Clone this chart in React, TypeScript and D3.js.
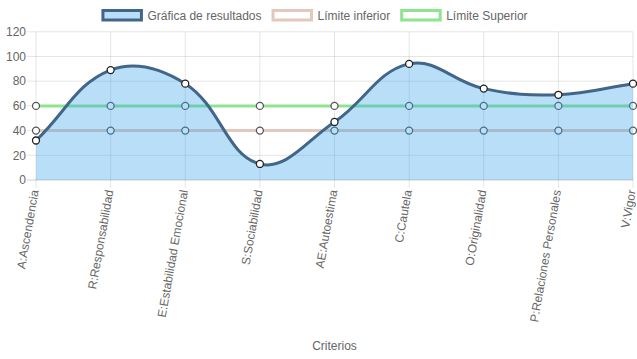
import React from 'react';
import * as d3 from 'd3';

// Data
const categories = [
  'A:Ascendencia',
  'R:Responsabilidad',
  'E:Estabilidad Emocional',
  'S:Sociabilidad',
  'AE:Autoestima',
  'C:Cautela',
  'O:Originalidad',
  'P:Relaciones Personales',
  'V:Vigor',
];
const resultados = [32, 89, 78, 13, 47, 94, 74, 69, 78];
const limiteInferior = [40, 40, 40, 40, 40, 40, 40, 40, 40];
const limiteSuperior = [60, 60, 60, 60, 60, 60, 60, 60, 60];
const yTicks = [0, 20, 40, 60, 80, 100, 120];
const legendLabels = ['Gráfica de resultados', 'Límite inferior', 'Límite Superior'];
const xTitle = 'Criterios';

const W = 637;
const H = 359;
const FONT = "'Liberation Sans', Arial, Helvetica, sans-serif";
const TEXT = '#666';

// plot area
const area = { left: 36, right: 633, top: 31.8, bottom: 180 };

// colours
const fillColor = 'rgba(54,162,235,0.35)';
const lineColor = '#42668a';
const lowColor = '#e3c8bc';
const highColor = '#8fe58f';

// Chart.js style spline (tension 0.4) as a d3 curve, control points capped to the chart area
const splineCurve = (context: any) => {
  const t = 0.4;
  let pts: number[][] = [];
  let line: number = NaN;
  const cap = (v: number, lo: number, hi: number) => Math.max(lo, Math.min(hi, v));
  return {
    areaStart() { line = 0; },
    areaEnd() { line = NaN; },
    lineStart() { pts = []; },
    point(x: number, y: number) { pts.push([+x, +y]); },
    lineEnd() {
      const n = pts.length;
      if (n) {
        if (line) context.lineTo(pts[0][0], pts[0][1]);
        else context.moveTo(pts[0][0], pts[0][1]);
        const ctrl = pts.map((cur, i) => {
          const prev = pts[i - 1] || cur;
          const next = pts[i + 1] || cur;
          const d01 = Math.hypot(cur[0] - prev[0], cur[1] - prev[1]);
          const d12 = Math.hypot(next[0] - cur[0], next[1] - cur[1]);
          let s01 = d01 / (d01 + d12);
          let s12 = d12 / (d01 + d12);
          if (isNaN(s01)) s01 = 0;
          if (isNaN(s12)) s12 = 0;
          const fa = t * s01;
          const fb = t * s12;
          const px = cur[0] - fa * (next[0] - prev[0]);
          const py = cur[1] - fa * (next[1] - prev[1]);
          const nx = cur[0] + fb * (next[0] - prev[0]);
          const ny = cur[1] + fb * (next[1] - prev[1]);
          return {
            prev: [cap(px, area.left, area.right), cap(py, area.top, area.bottom)],
            next: [cap(nx, area.left, area.right), cap(ny, area.top, area.bottom)],
          };
        });
        for (let i = 1; i < n; i++) {
          const a = ctrl[i - 1].next;
          const b = ctrl[i].prev;
          context.bezierCurveTo(a[0], a[1], b[0], b[1], pts[i][0], pts[i][1]);
        }
      }
      if (line || (line !== 0 && n === 1)) context.closePath();
      line = 1 - line;
    },
  };
};

const measure = (txt: string) => {
  const c = document.createElement('canvas').getContext('2d');
  if (!c) return txt.length * 6;
  c.font = `12px ${FONT}`;
  return c.measureText(txt).width;
};

const App = () => {
  const x = d3.scalePoint<string>().domain(categories).range([area.left, area.right]);
  const y = d3.scaleLinear().domain([0, 120]).range([area.bottom, area.top]);

  const lineGen = d3
    .line<number>()
    .x((_, i) => x(categories[i]) as number)
    .y((d) => y(d))
    .curve(splineCurve as any);

  const areaGen = d3
    .area<number>()
    .x((_, i) => x(categories[i]) as number)
    .y0(y(0))
    .y1((d) => y(d))
    .curve(splineCurve as any);

  // legend layout, centred like Chart.js
  const boxW = 40;
  const widths = legendLabels.map((l) => boxW + 6 + measure(l));
  const total = widths.reduce((s, w) => s + w + 10, 0) - 10;
  let cursor = (W - total) / 2 - 4;
  const legendItems = legendLabels.map((l, i) => {
    const item = { label: l, x: cursor };
    cursor += widths[i] + 10;
    return item;
  });
  const legendStyles = [
    { fill: fillColor, stroke: lineColor },
    { fill: '#fff', stroke: lowColor },
    { fill: '#fff', stroke: highColor },
  ];

  const limitSeries = [
    { data: limiteSuperior, color: highColor },
    { data: limiteInferior, color: lowColor },
  ];

  return (
    <svg width={W} height={H} style={{ position: 'absolute', left: 0, top: 0, background: '#fff' }}>
      {/* legend */}
      {legendItems.map((it, i) => (
        <g key={it.label}>
          <rect x={it.x + 1.5} y={10.5} width={boxW - 1.5} height={9.5}
            fill={legendStyles[i].fill} stroke={legendStyles[i].stroke} strokeWidth={3} />
          <text x={it.x + boxW + 6} y={19.5} fontFamily={FONT} fontSize={12} fill={TEXT}>{it.label}</text>
        </g>
      ))}

      {/* horizontal grid + y ticks */}
      {yTicks.map((t) => (
        <g key={t}>
          <line x1={27} x2={area.right} y1={y(t)} y2={y(t)}
            stroke={t === 0 ? 'rgba(0,0,0,0.2)' : 'rgba(0,0,0,0.1)'} strokeWidth={1} />
          <text x={26} y={y(t)} dy="0.35em" textAnchor="end" fontFamily={FONT} fontSize={12} fill={TEXT}>{t}</text>
        </g>
      ))}

      {/* vertical grid + x labels */}
      {categories.map((c) => (
        <g key={c}>
          <line x1={x(c)} x2={x(c)} y1={area.top} y2={188}
            stroke="rgba(0,0,0,0.1)" strokeWidth={1} />
          <text transform={`translate(${(x(c) as number) - 1},190) rotate(-80)`} textAnchor="end" dy="0.32em"
            fontFamily={FONT} fontSize={12} fill={TEXT}>{c}</text>
        </g>
      ))}

      {/* limit lines */}
      {limitSeries.map((s, si) => (
        <g key={si}>
          <path d={lineGen(s.data) || ''} fill="none" stroke={s.color} strokeWidth={3} />
          {s.data.map((v, i) => (
            <circle key={i} cx={x(categories[i])} cy={y(v)} r={3.5} fill="#fff" stroke="#555" strokeWidth={1.3} />
          ))}
        </g>
      ))}

      {/* results */}
      <path d={areaGen(resultados) || ''} fill={fillColor} stroke="none" />
      <path d={lineGen(resultados) || ''} fill="none" stroke={lineColor} strokeWidth={3} />
      {resultados.map((v, i) => (
        <circle key={i} cx={x(categories[i])} cy={y(v)} r={3.5} fill="#fff" stroke="#222" strokeWidth={1.3} />
      ))}

      <text x={(area.left + area.right) / 2} y={346} dy="0.35em" textAnchor="middle"
        fontFamily={FONT} fontSize={12} fill={TEXT}>{xTitle}</text>
    </svg>
  );
};

export default App;
